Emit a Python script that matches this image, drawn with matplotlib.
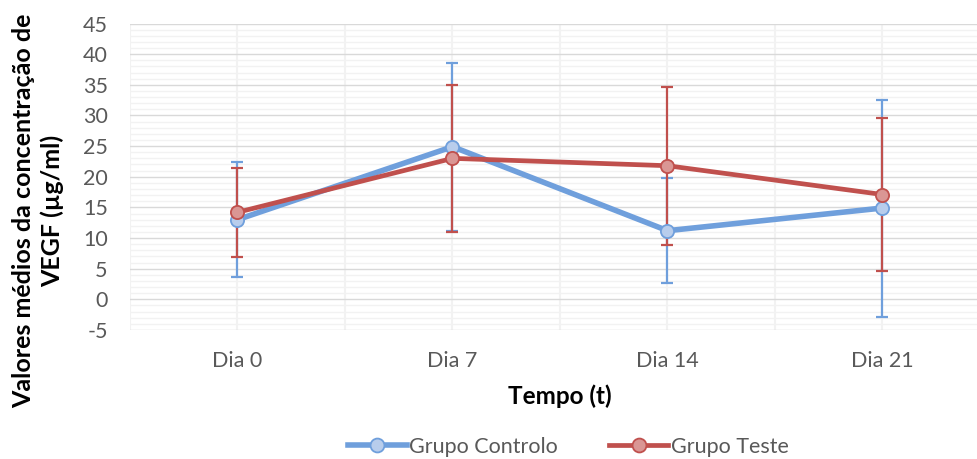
import matplotlib
matplotlib.use("Agg")
import matplotlib.pyplot as plt
from matplotlib.lines import Line2D
from matplotlib.ticker import MultipleLocator

categories = ["Dia 0", "Dia 7", "Dia 14", "Dia 21"]
controlo = [13.0, 24.9, 11.2, 14.9]
controlo_err = [9.4, 13.7, 8.6, 17.7]
teste = [14.2, 23.0, 21.8, 17.1]
teste_err = [7.3, 12.0, 12.9, 12.5]
series_names = ["Grupo Controlo", "Grupo Teste"]
y_ticks = [-5, 0, 5, 10, 15, 20, 25, 30, 35, 40, 45]

plt.rcParams['font.family'] = ['Lato', 'DejaVu Sans']
plt.rcParams['axes.unicode_minus'] = False
TXT = '#595959'

fig = plt.figure(figsize=(9.78, 4.59), dpi=100)
ax = fig.add_axes([130 / 978, 1 - 330 / 459, (990 - 130) / 978, (330 - 23.5) / 459])

x = list(range(len(categories)))
blue_line = '#6f9fdc'
blue_face = '#b8cdec'
red_line = '#c0504d'
red_face = '#da9694'

ax.errorbar(x, controlo, yerr=controlo_err, fmt='none', ecolor=blue_line,
            elinewidth=1.6, capsize=4.3, capthick=1.6, zorder=3)
ax.errorbar(x, teste, yerr=teste_err, fmt='none', ecolor=red_line,
            elinewidth=1.6, capsize=4.3, capthick=1.6, zorder=4)
ax.plot(x, controlo, color=blue_line, lw=4.0, marker='o', ms=9.5,
        mfc=blue_face, mec=blue_line, mew=1.3, zorder=5, solid_capstyle='round')
ax.plot(x, teste, color=red_line, lw=3.4, marker='o', ms=9.5,
        mfc=red_face, mec=red_line, mew=1.3, zorder=6, solid_capstyle='round')

ax.set_xlim(-0.5, len(categories) - 0.5)
ax.set_ylim(-5, 45)
ax.set_yticks(y_ticks)
ax.yaxis.set_minor_locator(MultipleLocator(1))
ax.set_xticks(x)
ax.set_xticklabels(categories)
ax.set_xticks([i + 0.5 for i in range(-1, len(categories))], minor=True)

ax.grid(which='major', axis='y', color='#d9d9d9', lw=1.0, zorder=0)
ax.grid(which='minor', axis='y', color='#f2f2f2', lw=1.0, zorder=0)
ax.grid(which='major', axis='x', color='#f2f2f2', lw=1.5, zorder=0)
ax.grid(which='minor', axis='x', color='#f2f2f2', lw=1.5, zorder=0)
ax.set_axisbelow(True)

for s in ax.spines.values():
    s.set_visible(False)
ax.tick_params(which='both', length=0)
ax.tick_params(axis='y', labelsize=15.5, labelcolor=TXT, pad=16)
ax.tick_params(axis='x', labelsize=15.5, labelcolor=TXT, pad=15)

ax.set_xlabel("Tempo (t)", fontsize=17.5, fontweight='bold', color='black', labelpad=10)
fig.text(0.039, 0.54, "Valores médios da concentração de\nVEGF (µg/ml)", rotation=90,
         ha='center', va='center', fontsize=18, fontweight='bold', color='black',
         linespacing=1.25, transform=fig.transFigure)

handles = [
    Line2D([], [], color=blue_line, lw=4.0, marker='o', ms=10, mfc=blue_face, mec=blue_line, mew=1.3),
    Line2D([], [], color=red_line, lw=3.4, marker='o', ms=10, mfc=red_face, mec=red_line, mew=1.3),
]
leg = fig.legend(handles, series_names, loc='center', bbox_to_anchor=(568 / 978, 1 - 447 / 459),
                 ncol=2, frameon=False, fontsize=15.5, handlelength=2.75, handletextpad=0.1,
                 columnspacing=2.4)
for t in leg.get_texts():
    t.set_color(TXT)

fig.savefig("out.png", dpi=100)
